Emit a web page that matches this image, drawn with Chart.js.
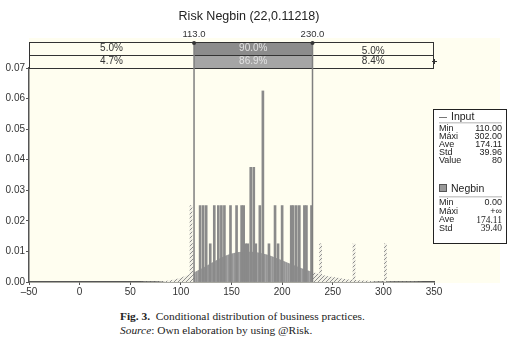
<!DOCTYPE html>
<html lang="en">
<head>
<meta charset="UTF-8">
<title>Risk Negbin (22,0.11218)</title>
<script src="https://cdn.jsdelivr.net/npm/chart.js"></script>
<style>
    body { margin: 0; background: #fff; width: 514px; height: 345px; overflow: hidden; position: relative; }
    #grafico { position: absolute; left: 0; top: 0; }
    .legenda { position: absolute; left: 120px; font-family: "Liberation Serif", serif; font-size: 11.4px; color: #222; white-space: nowrap; }
</style>
</head>
<body>
<canvas id="grafico" width="514" height="300"></canvas>
<div class="legenda" style="top:310px"><b>Fig. 3.</b>&nbsp; Conditional distribution of business practices.</div>
<div class="legenda" style="top:324px"><i>Source</i>: Own elaboration by using @Risk.</div>
<script>
    // dados
    const titulo = 'Risk Negbin (22,0.11218)';
    const limInf = 113, limSup = 230;
    const faixaTopo = ['5.0%', '90.0%', '5.0%'];
    const faixaBase = ['4.7%', '86.9%', '8.4%'];

    const xTicks = [-50, 0, 50, 100, 150, 200, 250, 300, 350];
    const yTicks = [0, 0.01, 0.02, 0.03, 0.04, 0.05, 0.06, 0.07];

    // curva Negbin (ajustada)
    const negbinX = [60, 70, 80, 90, 100, 110, 113, 120, 130, 140, 150, 160, 170, 180, 190, 200, 210, 220, 230, 240, 250, 260, 270, 280, 290, 300, 320, 340];
    const negbinY = [0.00001, 0.00005, 0.0002, 0.0006, 0.0014, 0.0027, 0.0031, 0.0043, 0.0062, 0.0080, 0.0093, 0.0099, 0.0099, 0.0094, 0.0084, 0.0071, 0.0057, 0.0044, 0.0033, 0.0023, 0.0016, 0.0011, 0.0007, 0.00045, 0.00028, 0.00017, 0.00006, 0.00002];

    // observacoes (Input)
    const inputX = [110, 111, 119, 122, 125, 129, 133, 137, 140, 143, 149, 155, 160, 162, 164, 166, 169, 172, 174, 178, 181, 187, 193, 196, 200, 209, 211, 214, 217, 222, 224, 229, 238, 271, 302];
    const inputY = [0.025, 0.0125, 0.025, 0.025, 0.025, 0.0125, 0.025, 0.025, 0.025, 0.025, 0.025, 0.025, 0.025, 0.025, 0.0125, 0.0125, 0.0375, 0.0375, 0.0125, 0.025, 0.0625, 0.0125, 0.025, 0.0125, 0.025, 0.025, 0.025, 0.025, 0.025, 0.025, 0.025, 0.025, 0.0125, 0.0125, 0.0125];

    const statsInput = [['Min', '110.00'], ['Máxi', '302.00'], ['Ave', '174.11'], ['Std', '39.96'], ['Value', '80']];
    const statsNegbin = [['Min', '0.00'], ['Máxi', '+∞'], ['Ave', '174.11'], ['Std', '39.40']];

    const canvas = document.getElementById('grafico');
    const ctx = canvas.getContext('2d');

    function padrao(w, h, desenha) {
        const c = document.createElement('canvas');
        c.width = w; c.height = h;
        desenha(c.getContext('2d'));
        return ctx.createPattern(c, 'repeat');
    }
    const hachura = padrao(4, 4, g => {
        g.fillStyle = '#f2f1e6'; g.fillRect(0, 0, 4, 4);
        g.strokeStyle = '#8f8f8f'; g.lineWidth = 1;
        g.beginPath();
        g.moveTo(0, 4); g.lineTo(4, 0);
        g.moveTo(-1, 1); g.lineTo(1, -1);
        g.moveTo(3, 5); g.lineTo(5, 3);
        g.stroke();
    });
    const listras = padrao(2, 1, g => {
        g.fillStyle = '#a4a4a4'; g.fillRect(0, 0, 2, 1);
        g.fillStyle = '#969696'; g.fillRect(0, 0, 1, 1);
    });

    const pontos = negbinX.map((x, i) => ({ x: x, y: negbinY[i] }));
    const esq = pontos.filter(p => p.x <= limInf);
    const meio = pontos.filter(p => p.x >= limInf && p.x <= limSup);
    const dir = pontos.filter(p => p.x >= limSup);
    const barras = inputX.map((x, i) => ({ x: x, y: inputY[i] }));

    const area = (dados, cor) => ({
        type: 'line', data: dados, fill: 'origin', backgroundColor: cor,
        borderWidth: 0, borderColor: 'rgba(0,0,0,0)', pointRadius: 0,
        cubicInterpolationMode: 'monotone', order: 2
    });

    const extras = {
        id: 'extras',
        beforeDraw(chart) {
            const c = chart.ctx;
            c.save();
            c.fillStyle = '#fffef0';
            c.fillRect(29, 38, 471, 245);
            c.restore();
        },
        afterDraw(chart) {
            const c = chart.ctx, a = chart.chartArea, sx = chart.scales.x;
            const p1 = sx.getPixelForValue(limInf), p2 = sx.getPixelForValue(limSup);
            const yT = 42, yM = 55, yB = a.top;
            c.save();

            // faixa de percentuais
            c.fillStyle = '#8c8c8c'; c.fillRect(p1, yT, p2 - p1, yM - yT);
            c.fillStyle = '#a5a5a5'; c.fillRect(p1, yM, p2 - p1, yB - yM);
            c.strokeStyle = '#333'; c.lineWidth = 1;
            c.strokeRect(a.left + 0.5, yT + 0.5, a.right - a.left - 1, yB - yT);
            c.beginPath(); c.moveTo(a.left, yM + 0.5); c.lineTo(a.right, yM + 0.5); c.stroke();

            // linhas verticais dos limites
            c.strokeStyle = '#7f7f7f'; c.lineWidth = 1.5;
            [p1, p2].forEach(p => {
                c.beginPath(); c.moveTo(p, yT); c.lineTo(p, a.bottom); c.stroke();
            });
            c.fillStyle = '#333';
            [p1, p2].forEach(p => { c.beginPath(); c.arc(p, yT + 1, 2, 0, Math.PI * 2); c.fill(); });
            // marca + na direita
            c.strokeStyle = '#333'; c.lineWidth = 1;
            c.beginPath(); c.moveTo(a.right - 2, 61.5); c.lineTo(a.right + 3, 61.5);
            c.moveTo(a.right + 0.5, 59); c.lineTo(a.right + 0.5, 64); c.stroke();

            c.font = '10px "Liberation Sans", Arial, sans-serif';
            c.textAlign = 'center'; c.textBaseline = 'middle';
            const cx = [(a.left + p1) / 2, (p1 + p2) / 2, (p2 + a.right) / 2];
            faixaTopo.forEach((t, i) => {
                c.fillStyle = i === 1 ? '#e2e2e2' : '#333';
                c.fillText(t, cx[i], i === 2 ? 51 : 48.5);
            });
            faixaBase.forEach((t, i) => {
                c.fillStyle = i === 1 ? '#e2e2e2' : '#333';
                c.fillText(t, cx[i], 61.5);
            });

            c.fillStyle = '#333';
            c.font = '9.5px "Liberation Sans", Arial, sans-serif';
            c.fillText(limInf.toFixed(1), p1, 34);
            c.fillText(limSup.toFixed(1), p2, 34);

            c.font = '12.5px "Liberation Sans", Arial, sans-serif';
            c.fillStyle = '#222';
            c.fillText(titulo, 249, 17);

            // painel de estatisticas
            const bx = 433, by = 109, bw = 73, bh = 134;
            c.fillStyle = '#fff'; c.fillRect(bx, by, bw, bh);
            c.strokeStyle = '#222'; c.lineWidth = 1;
            c.strokeRect(bx + 0.5, by + 0.5, bw, bh);

            const l = bx + 6, r = bx + bw - 4;
            c.textBaseline = 'middle';
            c.strokeStyle = '#777';
            c.beginPath(); c.moveTo(l, 117.5); c.lineTo(l + 8, 117.5); c.stroke();
            c.fillStyle = '#222';
            c.textAlign = 'left';
            c.font = '10.5px "Liberation Sans", Arial, sans-serif';
            c.fillText('Input', l + 12, 117);
            c.fillStyle = '#ccc'; c.fillRect(l, 122, r - l, 1.5);

            c.font = '9px "Liberation Sans", Arial, sans-serif';
            statsInput.forEach((s, i) => {
                const y = 129 + i * 8;
                c.fillStyle = '#222';
                c.textAlign = 'left'; c.fillText(s[0], l, y);
                c.textAlign = 'right'; c.fillText(s[1], r, y);
            });

            c.fillStyle = '#999'; c.fillRect(l, 184, 8, 8);
            c.strokeStyle = '#555'; c.strokeRect(l + 0.5, 184.5, 7, 7);
            c.fillStyle = '#222'; c.textAlign = 'left';
            c.font = '10.5px "Liberation Sans", Arial, sans-serif';
            c.fillText('Negbin', l + 12, 189);
            c.fillStyle = '#ccc'; c.fillRect(l, 196, r - l, 1.5);

            statsNegbin.forEach((s, i) => {
                const y = 203 + i * 8.5;
                c.fillStyle = '#222';
                c.font = '9px "Liberation Sans", Arial, sans-serif';
                c.textAlign = 'left'; c.fillText(s[0], l, y);
                if (i >= 2) c.font = '9.5px "Liberation Serif", serif';
                c.textAlign = 'right'; c.fillText(s[1], r, y);
            });
            c.restore();
        }
    };

    Chart.defaults.font.family = '"Liberation Sans", Arial, sans-serif';
    Chart.defaults.font.size = 10;
    Chart.defaults.color = '#333';

    new Chart(ctx, {
        data: {
            datasets: [
                {
                    type: 'bar', data: barras, order: 1, barThickness: 2, grouped: false,
                    backgroundColor: c => (c.raw && (c.raw.x < limInf || c.raw.x > limSup)) ? hachura : '#8a8a8a'
                },
                area(esq, hachura),
                area(meio, listras),
                area(dir, hachura)
            ]
        },
        options: {
            responsive: false,
            animation: false,
            layout: { padding: { top: 68, right: 80, left: 0, bottom: 0 } },
            plugins: { legend: { display: false }, tooltip: { enabled: false } },
            scales: {
                x: {
                    type: 'linear', min: -50, max: 350, offset: false,
                    afterBuildTicks: s => { s.ticks = xTicks.map(v => ({ value: v })); },
                    afterFit: s => { s.height = 18; },
                    ticks: { padding: 1, callback: v => v < 0 ? '\u2013' + Math.abs(v) : String(v) },
                    grid: { drawOnChartArea: false, tickLength: 3, color: '#555', offset: false },
                    border: { color: '#555', width: 1.5 }
                },
                y: {
                    min: 0, max: 0.07,
                    afterBuildTicks: s => { s.ticks = yTicks.map(v => ({ value: v })); },
                    afterFit: s => { s.width = 29; },
                    ticks: { padding: 1, callback: v => v.toFixed(2) },
                    grid: { drawOnChartArea: false, tickLength: 3, color: '#555' },
                    border: { color: '#555', width: 1.5 }
                }
            }
        },
        plugins: [extras]
    });
</script>
</body>
</html>
